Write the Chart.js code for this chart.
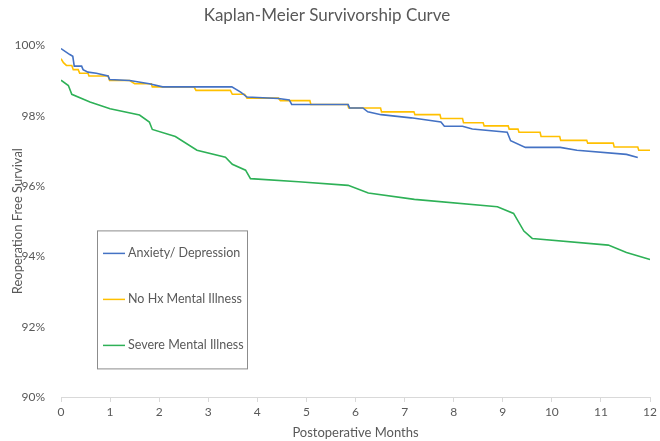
<!DOCTYPE html>
<html>
<head>
<meta charset="utf-8">
<script src="https://cdn.jsdelivr.net/npm/chart.js@4.4.1/dist/chart.umd.min.js"></script>
<style>
  html, body { margin: 0; padding: 0; background: #fff; }
  #wrap { width: 660px; height: 441px; position: relative; }
</style>
</head>
<body>
<div id="wrap"><canvas id="km"></canvas></div>
<script>
// series labels + colours
const seriesNames = ['Anxiety/ Depression', 'No Hx Mental Illness', 'Severe Mental Illness'];
const seriesColors = ['#4472C4', '#FFC000', '#2EB157'];

// Anxiety/ Depression (months, % survival)
const anxMonths = [0, 0.18, 0.24, 0.27, 0.42, 0.45, 0.55, 0.72, 0.96, 0.99, 1.4, 1.8, 2.07, 3.48, 3.66, 3.79, 4.43, 4.65, 4.7, 5.85, 5.88, 6.15, 6.25, 6.52, 7.13, 7.74, 7.81, 8.18, 8.38, 9.09, 9.16, 9.46, 10.17, 10.51, 11.52, 11.75];
const anxSurv   = [99.91, 99.74, 99.69, 99.41, 99.41, 99.31, 99.24, 99.21, 99.13, 99.03, 99.0, 98.91, 98.82, 98.82, 98.67, 98.53, 98.49, 98.45, 98.32, 98.32, 98.22, 98.22, 98.11, 98.03, 97.94, 97.82, 97.7, 97.7, 97.62, 97.53, 97.29, 97.1, 97.1, 97.02, 96.9, 96.81];

// No Hx Mental Illness
const noHxMonths = [0, 0.05, 0.11, 0.22, 0.25, 0.35, 0.38, 0.55, 0.57, 0.96, 0.99, 1.4, 1.5, 1.84, 1.86, 2.71, 2.75, 3.45, 3.49, 3.74, 3.79, 4.43, 4.47, 5.07, 5.09, 5.84, 5.86, 6.51, 6.53, 7.19, 7.21, 7.72, 7.74, 8.18, 8.2, 8.6, 8.62, 9.11, 9.13, 9.31, 9.33, 9.76, 9.78, 10.16, 10.18, 10.71, 10.73, 11.25, 11.27, 11.75, 11.77, 12.0];
const noHxSurv   = [99.62, 99.51, 99.43, 99.43, 99.31, 99.31, 99.21, 99.21, 99.13, 99.13, 99.0, 99.0, 98.91, 98.91, 98.82, 98.82, 98.72, 98.72, 98.61, 98.61, 98.5, 98.5, 98.43, 98.43, 98.32, 98.32, 98.22, 98.22, 98.11, 98.11, 98.03, 98.03, 97.92, 97.92, 97.8, 97.8, 97.71, 97.71, 97.62, 97.62, 97.53, 97.53, 97.41, 97.41, 97.3, 97.3, 97.22, 97.22, 97.11, 97.11, 97.02, 97.02];

// Severe Mental Illness
const smiMonths = [0, 0.15, 0.22, 0.59, 1.0, 1.6, 1.8, 1.86, 2.33, 2.77, 3.35, 3.49, 3.76, 3.86, 4.84, 5.85, 6.26, 7.2, 8.89, 9.22, 9.43, 9.6, 11.15, 11.52, 12.0];
const smiSurv   = [99.01, 98.86, 98.61, 98.39, 98.2, 98.02, 97.82, 97.61, 97.41, 97.02, 96.82, 96.62, 96.45, 96.21, 96.12, 96.02, 95.8, 95.62, 95.41, 95.22, 94.72, 94.51, 94.32, 94.11, 93.91];

// axis
const xTicks = [0, 1, 2, 3, 4, 5, 6, 7, 8, 9, 10, 11, 12];
const yTicks = [90, 92, 94, 96, 98, 100];

const FONT = 'Lato, "Open Sans", sans-serif';
const GREY = '#595959';

function pts(xs, ys) { return xs.map((x, i) => ({x: x, y: ys[i]})); }

const boxLegend = {
  id: 'boxLegend',
  afterDraw(chart) {
    const ctx = chart.ctx, a = chart.chartArea;
    const left = a.left + 36, top = a.top + 185, w = 150, h = 138;
    ctx.save();
    ctx.strokeStyle = '#8c8c8c';
    ctx.lineWidth = 1;
    ctx.strokeRect(left + 0.5, top + 0.5, w, h);
    ctx.font = '12.5px ' + FONT;
    ctx.fillStyle = GREY;
    ctx.textBaseline = 'middle';
    chart.data.datasets.forEach((ds, i) => {
      const y = top + 23 + i * 46;
      ctx.strokeStyle = ds.borderColor;
      ctx.lineWidth = 1.5;
      ctx.beginPath();
      ctx.moveTo(left + 6, y);
      ctx.lineTo(left + 28, y);
      ctx.stroke();
      ctx.fillText(ds.label, left + 31, y);
    });
    ctx.restore();
  }
};

const ctx = document.getElementById('km');
new Chart(ctx, {
  type: 'line',
  plugins: [boxLegend],
  data: {
    datasets: [
      { label: seriesNames[0], data: pts(anxMonths, anxSurv), borderColor: seriesColors[0] },
      { label: seriesNames[1], data: pts(noHxMonths, noHxSurv), borderColor: seriesColors[1] },
      { label: seriesNames[2], data: pts(smiMonths, smiSurv), borderColor: seriesColors[2] }
    ]
  },
  options: {
    responsive: true,
    maintainAspectRatio: false,
    animation: false,
    layout: { padding: { left: 0, right: 6, top: 0, bottom: 0 } },
    elements: {
      point: { radius: 0 },
      line: { borderWidth: 1.6, tension: 0 }
    },
    scales: {
      x: {
        type: 'linear',
        min: 0, max: 12,
        afterBuildTicks: s => { s.ticks = xTicks.map(v => ({value: v})); },
        afterFit: s => { s.height = 44; },
        grid: { drawOnChartArea: false, drawTicks: true, tickLength: 5, color: '#d9d9d9' },
        border: { display: true, color: '#d9d9d9' },
        ticks: { color: GREY, font: { family: FONT, size: 12 }, padding: 3, maxRotation: 0 },
        title: { display: true, text: 'Postoperative Months', color: GREY, font: { family: FONT, size: 13 }, padding: { top: 0, bottom: 0 } }
      },
      y: {
        min: 90, max: 100,
        afterBuildTicks: s => { s.ticks = yTicks.map(v => ({value: v})); },
        afterFit: s => { s.width = 61; },
        grid: { display: false },
        border: { display: false },
        ticks: { color: GREY, font: { family: FONT, size: 12 }, padding: 8, callback: v => v + '%' },
        title: { display: true, text: 'Reoperation Free Survival', color: GREY, font: { family: FONT, size: 13 }, padding: { top: 10, bottom: 0 } }
      }
    },
    plugins: {
      legend: { display: false },
      tooltip: { enabled: false },
      title: {
        display: true,
        text: 'Kaplan-Meier Survivorship Curve',
        color: GREY,
        font: { family: FONT, size: 17, weight: 'normal' },
        padding: { top: 5, bottom: 20 }
      }
    }
  }
});
</script>
</body>
</html>
